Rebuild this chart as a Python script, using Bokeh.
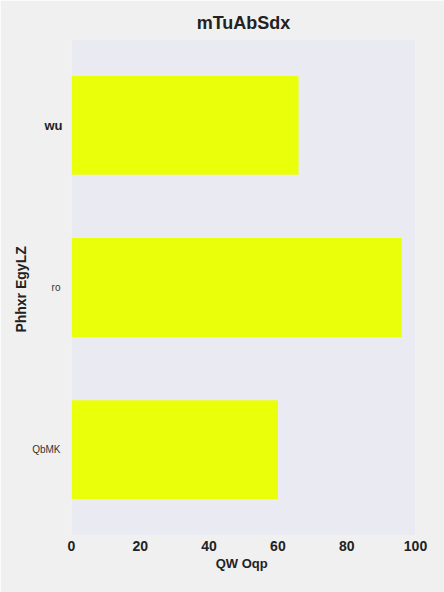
from bokeh.plotting import figure
from bokeh.models import LinearAxis, Range1d, FixedTicker
from bokeh.embed import file_html
from bokeh.resources import INLINE

categories = ["QbMK", "ro", "wu"]
values = [60, 96, 66]
x_ticks = [0, 20, 40, 60, 80, 100]

FONT = "Liberation Sans"
pos = list(range(len(categories)))

p = figure(width=444, height=592, y_range=Range1d(-0.53, len(categories) - 1 + 0.53),
           x_range=(0, 100), output_backend="svg", toolbar_location=None,
           title="mTuAbSdx", x_axis_label="QW  Oqp",
           min_border_left=71, min_border_right=29, min_border_top=39, min_border_bottom=57)
p.background_fill_color = "#eaeaf2"
p.border_fill_color = "#f0f0f0"
p.outline_line_color = None

p.hbar(y=pos, right=values, height=0.61, left=0, color="#eaff0a", line_color=None)

p.title.align = "center"
p.title.text_font = FONT
p.title.text_font_size = "18px"
p.title.text_font_style = "bold"
p.title.text_color = "#222222"
p.title.standoff = 14

p.xgrid.visible = False
p.ygrid.visible = False

big = [i for i, c in enumerate(categories) if c == "wu"]
small = [i for i, c in enumerate(categories) if c != "wu"]

# outer y axis: small labels + axis title
y2 = LinearAxis(axis_label="Phhxr  EgyLZ", ticker=FixedTicker(ticks=small),
                major_label_overrides={i: categories[i] for i in small})
p.add_layout(y2, "left")

yin = p.yaxis[0]
yin.ticker = FixedTicker(ticks=big)
yin.major_label_overrides = {i: categories[i] for i in big}

for ax in (p.xaxis[0], yin, y2):
    ax.axis_line_color = None
    ax.major_tick_line_color = None
    ax.minor_tick_line_color = None
    ax.major_tick_out = 0
    ax.major_tick_in = 0
    ax.minor_tick_out = 0
    ax.minor_tick_in = 0
    ax.axis_label_text_font = FONT
    ax.axis_label_text_font_style = "bold"
    ax.axis_label_text_color = "#222222"
    ax.major_label_text_font = FONT

p.xaxis.ticker = x_ticks
p.xaxis.major_label_text_font_size = "14px"
p.xaxis.major_label_text_font_style = "bold"
p.xaxis.major_label_text_color = "#222222"
p.xaxis.major_label_standoff = 5
p.xaxis.axis_label_text_font_size = "13px"
p.xaxis.axis_label_standoff = 2

yin.major_label_text_font_size = "13px"
yin.major_label_text_font_style = "bold"
yin.major_label_text_color = "#222222"
yin.major_label_standoff = 9

y2.major_label_text_font_size = "10px"
y2.major_label_text_color = "#333333"
y2.major_label_standoff = -19
y2.axis_label_text_font_size = "14px"
y2.axis_label_standoff = 0

open("out.html", "w").write(file_html(p, INLINE))
